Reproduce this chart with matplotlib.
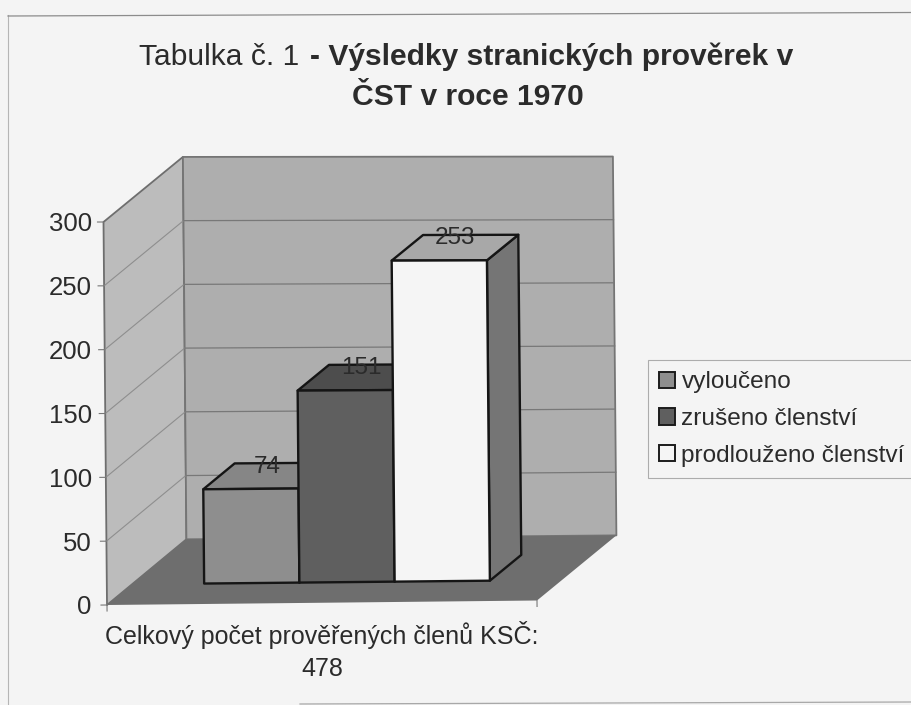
import matplotlib
matplotlib.use("Agg")
import matplotlib.pyplot as plt
from matplotlib.patches import Patch

plt.rcParams['font.family'] = ['Liberation Sans', 'DejaVu Sans']

W, H = 911, 705
series = ['vyloučeno', 'zrušeno členství', 'prodlouženo členství']
values = [74, 151, 253]
category = 'Celkový počet prověřených členů KSČ:\n478'
yticks = [0, 50, 100, 150, 200, 250, 300]

bg = '#f4f4f4'
txt = '#2b2b2b'
front = ['#8e8e8e', '#5f5f5f', '#f5f5f5']
top = ['#868686', '#4d4d4d', '#a8a8a8']
side = ['#6a6a6a', '#555555', '#757575']

fig = plt.figure(figsize=(W / 100, H / 100), dpi=100, facecolor=bg)
# front plane of the 3d box in pixels: x 107-537, y 605-222
AW, AH = 430, 383
ax = fig.add_axes([107 / W, 1 - 605 / H, AW / W, AH / H])
ax.set_xlim(0, 1)
ax.set_ylim(0, 300)
ax.patch.set_visible(False)
for s in ax.spines.values():
    s.set_visible(False)

# depth shift, one full depth = 80px right, 65px up
DX = 80 / AW
DY = 65 / (AH / 300)


def proj(x, y, d):
    px = x + d * DX
    py = y + d * DY
    # the scan is slightly warped, floor runs uphill and left edge leans left
    yn = py / 300
    lean = -3.5 * yn / AW
    rise = px * (1 + 3.5 * (1 - yn)) * 300 / AH
    return px + lean, py + rise


def face(pts, color, edge='none', lw=0, z=1):
    xs, ys = zip(*[proj(*p) for p in pts])
    ax.fill(xs, ys, facecolor=color, edgecolor=edge, linewidth=lw, zorder=z,
            clip_on=False, joinstyle='round')


# walls and floor
face([(0, 0, 0), (0, 300, 0), (0, 300, 1), (0, 0, 1)], '#bcbcbc', '#6e6e6e', 1.3)
face([(0, 0, 1), (0, 300, 1), (1, 300, 1), (1, 0, 1)], '#aeaeae', '#757575', 1.3)
face([(0, 0, 0), (0, 0, 1), (1, 0, 1), (1, 0, 0)], '#6e6e6e', z=1.5)

for v in yticks[1:-1]:
    xs, ys = zip(proj(0, v, 0), proj(0, v, 1))
    ax.plot(xs, ys, color='#8e8e8e', lw=0.8, zorder=1.2, clip_on=False)
    xs, ys = zip(proj(0, v, 1), proj(1, v, 1))
    ax.plot(xs, ys, color='#787878', lw=0.9, zorder=1.2, clip_on=False)

# tick marks follow the warped front edge
for v in yticks:
    xs, ys = zip(proj(-6 / AW, v, 0), proj(0, v, 0))
    ax.plot(xs, ys, color='#777777', lw=0.8, clip_on=False)
for x in [0, 1]:
    xs, ys = zip(proj(x, 0, 0), proj(x, -6 * 300 / AH, 0))
    ax.plot(xs, ys, color='#777777', lw=0.8, clip_on=False)

# bars
bar_w = 0.2215
d1, d2 = 0.315, 0.71
x0 = 0.5 - 1.5 * bar_w
for i, v in enumerate(values):
    a = x0 + i * bar_w
    b = a + bar_w
    z = 2 + i
    face([(b, 0, d1), (b, 0, d2), (b, v, d2), (b, v, d1)], side[i], '#151515', 1.7, z)
    face([(a, v, d1), (a, v, d2), (b, v, d2), (b, v, d1)], top[i], '#151515', 1.7, z)
    face([(a, 0, d1), (a, v, d1), (b, v, d1), (b, 0, d1)], front[i], '#151515', 1.7, z)
for i, v in enumerate(values):
    px, py = proj(x0 + (i + 0.5) * bar_w, v, d1)
    ax.annotate(str(v), (px, py), xytext=(11.5, 16), textcoords='offset points',
                ha='center', va='center', fontsize=17.5, color=txt, zorder=10)

ax.set_yticks(yticks)
ax.tick_params(axis='y', length=0, labelsize=18.5, labelcolor=txt, pad=11)
ax.set_xticks([0.5], [category])
ax.tick_params(axis='x', length=0, labelsize=18, labelcolor=txt, pad=11.5)
for lab in ax.get_xticklabels():
    lab.set_linespacing(1.42)

# title, normal and bold parts side by side
fig.text(308 / W, 1 - 57 / H, 'Tabulka č. 1 ', ha='right', va='center',
         fontsize=21.6, color=txt)
fig.text(310 / W, 1 - 57 / H, '- Výsledky stranických prověrek v', ha='left',
         va='center', fontsize=21.6, fontweight='bold', color=txt)
fig.text(468 / W, 1 - 97 / H, 'ČST v roce 1970', ha='center', va='center',
         fontsize=21.6, fontweight='bold', color=txt)

# legend
handles = [Patch(facecolor=front[i], edgecolor='#1c1c1c', linewidth=1.4, label=series[i])
           for i in range(3)]
leg = fig.legend(handles=handles, loc='upper left',
                 bbox_to_anchor=(648 / W, 1 - 360 / H), bbox_transform=fig.transFigure,
                 fontsize=17.6, frameon=True, fancybox=False, edgecolor='#9a9a9a',
                 facecolor=bg, handlelength=0.65, handleheight=0.65, handletextpad=0.25,
                 labelspacing=0.6, borderpad=0.47, borderaxespad=0, labelcolor=txt)
leg.get_frame().set_linewidth(0.8)

# outer chart frame, what survives of it in the scan
fig.add_artist(plt.Line2D([8 / W, 8 / W], [1 - 15 / H, 1 - 705 / H], color='#b5b5b5', lw=0.8))
fig.add_artist(plt.Line2D([8 / W, 1], [1 - 16 / H, 1 - 12.5 / H], color='#8c8c8c', lw=0.9))
fig.add_artist(plt.Line2D([300 / W, 1], [1 - 704 / H, 1 - 702 / H], color='#a8a8a8', lw=0.9))

fig.savefig('out.png', dpi=100, facecolor=bg)
